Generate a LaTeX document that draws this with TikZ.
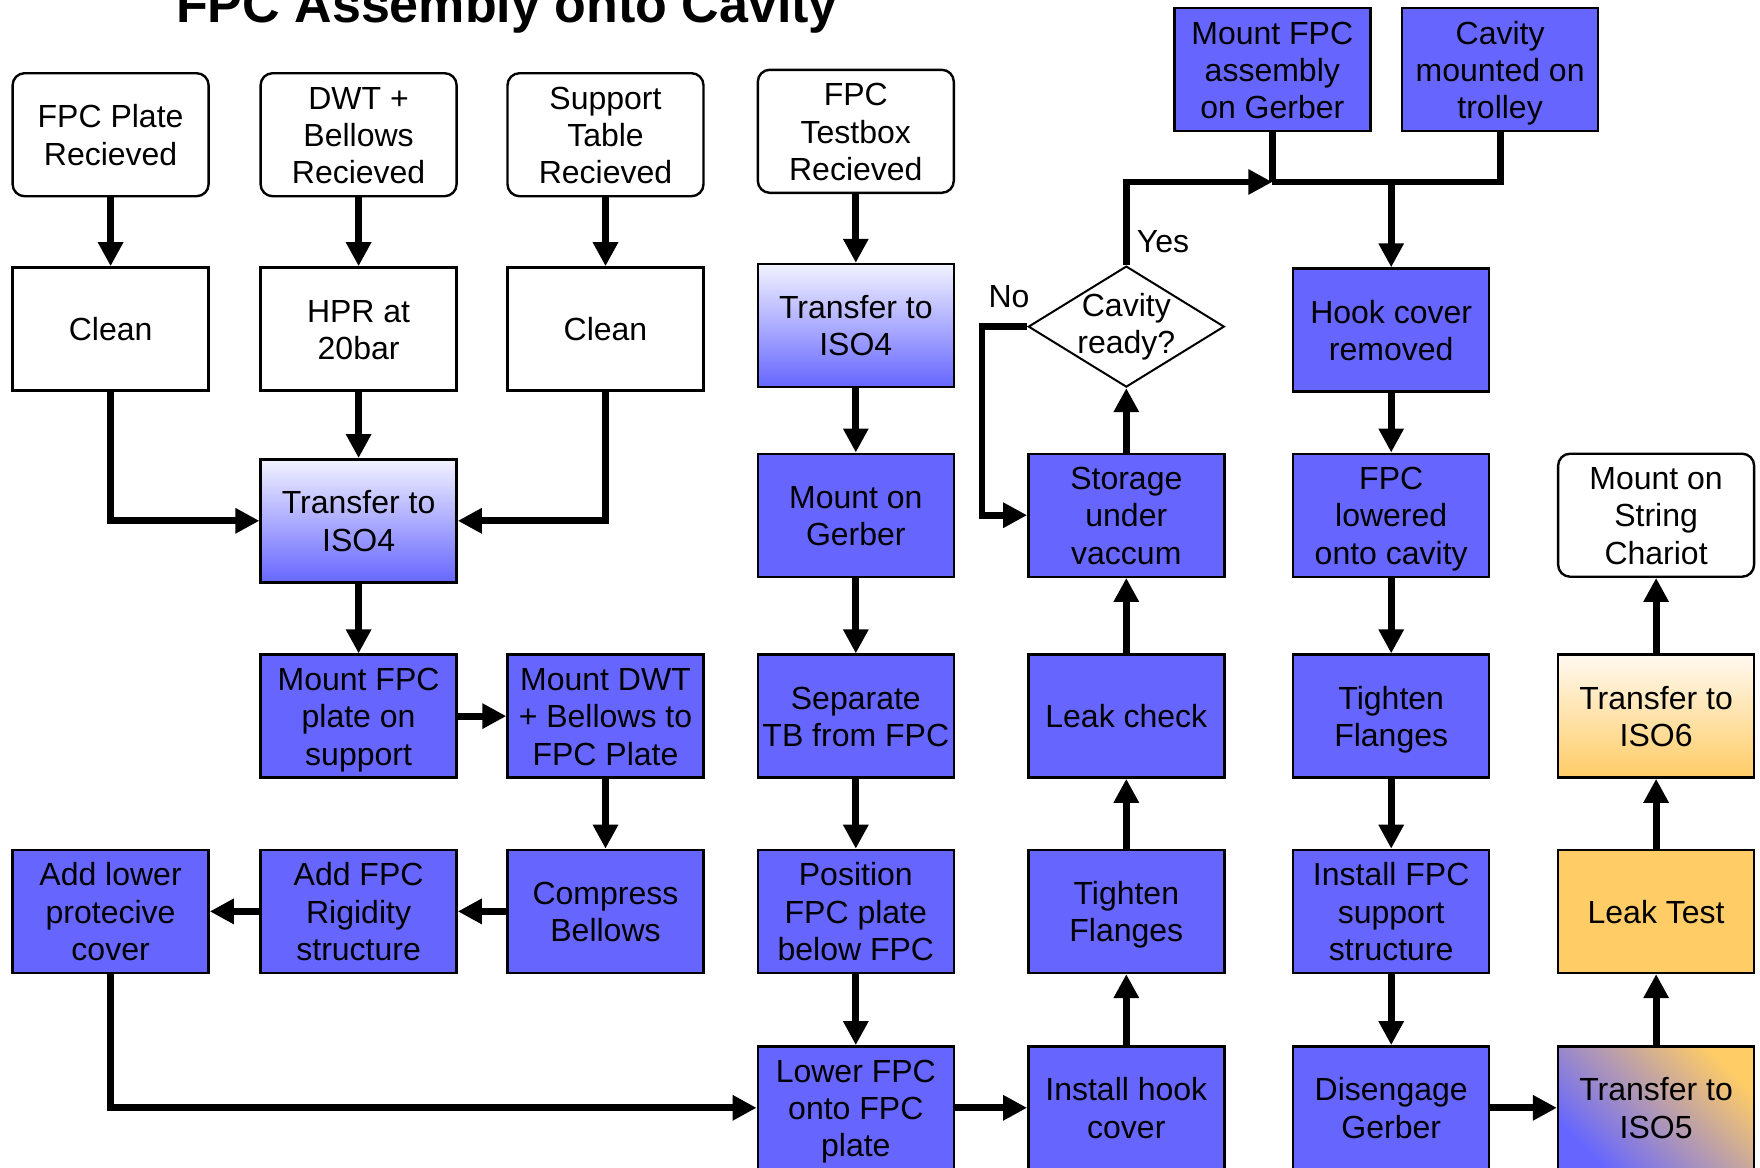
\documentclass[tikz,border=0pt]{standalone}
\usepackage{fontspec}
\setmainfont{Liberation Sans}
\usetikzlibrary{arrows.meta,shapes.geometric}
\definecolor{bluef}{HTML}{6666FF}
\definecolor{bluetop}{HTML}{F2F2FF}
\definecolor{orangef}{HTML}{FFCC66}
\definecolor{orangetop}{HTML}{FFF9F0}
\newcommand{\topfix}{\rule{0pt}{15.1pt}}
\newcommand{\botfix}{\rule[-3.4pt]{0pt}{0pt}}
\newcommand{\tx}[1]{\topfix#1\botfix}
\tikzset{
  base/.style={draw=black, line width=1.2pt, minimum width=98pt, minimum height=61.5pt,
    inner sep=0pt, align=center, font=\fontsize{16pt}{18.6pt}\selectfont},
  recv/.style={base, rounded corners=6pt, fill=white},
  plain/.style={base, fill=white},
  bluebox/.style={base, fill=bluef},
  gradbox/.style={base, top color=bluetop, bottom color=bluef},
  orbox/.style={base, fill=orangef},
  gradorbox/.style={base, top color=orangetop, bottom color=orangef},
  mixbox/.style={base, shading=axis, top color=orangef, bottom color=bluef, shading angle=-45},
  decision/.style={diamond, aspect=1.62, draw=black, line width=1pt, fill=white,
    minimum width=98pt, minimum height=60.5pt, inner sep=0pt, align=center,
    font=\fontsize{16pt}{18.6pt}\selectfont},
  conn/.style={line width=3.4pt, -{Triangle[length=12pt,width=12pt]}},
  line/.style={line width=3.4pt},
  lbl/.style={font=\fontsize{16pt}{18.6pt}\selectfont, inner sep=0pt}
}
\begin{document}
\begin{tikzpicture}[x=0.5pt,y=-0.5pt]
\clip (0,0) rectangle (1760,1167);
\fill[white] (0,0) rectangle (1760,1167);
% title
\node[anchor=base, font=\fontsize{26pt}{30pt}\selectfont\bfseries, inner sep=0pt] (title) at (507,22) {FPC Assembly onto Cavity};
% column 1-3 top
\node[recv] (r1) at (110.6,134.7) {\tx{FPC Plate\\Recieved}};
\node[recv] (r2) at (358.6,134.7) {\tx{DWT +\\Bellows\\Recieved}};
\node[recv] (r3) at (605.5,134.7) {\tx{Support\\Table\\Recieved}};
\node[recv] (r4) at (855.8,131.3) {\tx{FPC\\Testbox\\Recieved}};
\node[plain] (c1) at (110.6,328.9) {\tx{Clean}};
\node[plain] (hpr) at (358.6,328.9) {\tx{HPR at\\20bar}};
\node[plain] (c3) at (605.5,328.9) {\tx{Clean}};
\node[gradbox] (iso4a) at (358.6,520.8) {\tx{Transfer to\\ISO4}};
\node[bluebox] (mfp) at (358.6,716.1) {\tx{Mount FPC\\plate on\\support}};
\node[bluebox] (mdwt) at (605.5,716.1) {\tx{Mount DWT\\+ Bellows to\\FPC Plate}};
\node[bluebox] (comp) at (605.5,911.4) {\tx{Compress\\Bellows}};
\node[bluebox] (rig) at (358.6,911.4) {\tx{Add FPC\\Rigidity\\structure}};
\node[bluebox] (low) at (110.6,911.4) {\tx{Add lower\\protecive\\cover}};
% column 4
\node[gradbox] (iso4b) at (855.8,325.5) {\tx{Transfer to\\ISO4}};
\node[bluebox] (mg) at (855.8,515.2) {\tx{Mount on\\Gerber}};
\node[bluebox] (sep) at (855.8,716.1) {\tx{Separate\\TB from FPC}};
\node[bluebox] (pos) at (855.8,911.4) {\tx{Position\\FPC plate\\below FPC}};
\node[bluebox] (lfpc) at (855.8,1107.8) {\tx{Lower FPC\\onto FPC\\plate}};
% column 5
\node[bluebox] (ihc) at (1126.3,1107.8) {\tx{Install hook\\cover}};
\node[bluebox] (tf5) at (1126.3,911.4) {\tx{Tighten\\Flanges}};
\node[bluebox] (leak) at (1126.3,716.1) {\tx{Leak check}};
\node[bluebox] (stor) at (1126.3,515.2) {\tx{Storage\\under\\vaccum}};
\node[decision] (dec) at (1126.3,326.6) {\makebox[0pt]{Cavity}\\\makebox[0pt]{ready?}};
% top right
\node[bluebox] (mfa) at (1272.3,69.6) {\tx{Mount FPC\\assembly\\on Gerber}};
\node[bluebox] (cmt) at (1500.1,69.6) {\tx{Cavity\\mounted on\\trolley}};
% column 6
\node[bluebox] (hook) at (1391.2,330) {\tx{Hook cover\\removed}};
\node[bluebox] (flw) at (1391.2,515.2) {\tx{FPC\\lowered\\onto cavity}};
\node[bluebox] (tf6) at (1391.2,716.1) {\tx{Tighten\\Flanges}};
\node[bluebox] (ifs) at (1391.2,911.4) {\tx{Install FPC\\support\\structure}};
\node[bluebox] (dis) at (1391.2,1107.8) {\tx{Disengage\\Gerber}};
% column 7
\node[mixbox] (iso5) at (1656.1,1107.8) {\tx{Transfer to\\ISO5}};
\node[orbox] (lt) at (1656.1,911.4) {\tx{Leak Test}};
\node[gradorbox] (iso6) at (1656.1,716.1) {\tx{Transfer to\\ISO6}};
\node[recv] (msc) at (1656.1,515.2) {\tx{Mount on\\String\\Chariot}};
% labels
\node[lbl] (yes) at (1163,242) {Yes};
\node[lbl] (no) at (1009,297) {No};
% junction coordinates
\coordinate (jy) at (1126.3,182);
\coordinate (jm) at (1272.3,182);
\coordinate (jc) at (1500.1,182);
\coordinate (jh) at (1391.2,182);
\coordinate (nl) at (982,326.6);
\coordinate (nb) at (982,515.2);
% connectors
\draw[conn] (r1) -- (c1);
\draw[conn] (r2) -- (hpr);
\draw[conn] (r3) -- (c3);
\draw[conn] (r4) -- (iso4b);
\draw[conn] (hpr) -- (iso4a);
\draw[conn] (c1.south) |- (iso4a.west);
\draw[conn] (c3.south) |- (iso4a.east);
\draw[conn] (iso4a) -- (mfp);
\draw[conn] (mfp) -- (mdwt);
\draw[conn] (mdwt) -- (comp);
\draw[conn] (comp) -- (rig);
\draw[conn] (rig) -- (low);
\draw[conn] (low.south) |- (lfpc.west);
\draw[conn] (iso4b) -- (mg);
\draw[conn] (mg) -- (sep);
\draw[conn] (sep) -- (pos);
\draw[conn] (pos) -- (lfpc);
\draw[conn] (lfpc) -- (ihc);
\draw[conn] (ihc) -- (tf5);
\draw[conn] (tf5) -- (leak);
\draw[conn] (leak) -- (stor);
\draw[conn] (stor) -- (dec);
\draw[conn] (dec.west) -- (nl) -- (nb) -- (stor.west);
\draw[conn] (dec.north) -- (jy) -- (jm);
\draw[line] (mfa.south) -- (jm);
\draw[line, line join=miter] (cmt.south) -- (jc) -- (jm);
\draw[conn] (jh) -- (hook);
\draw[conn] (hook) -- (flw);
\draw[conn] (flw) -- (tf6);
\draw[conn] (tf6) -- (ifs);
\draw[conn] (ifs) -- (dis);
\draw[conn] (dis) -- (iso5);
\draw[conn] (iso5) -- (lt);
\draw[conn] (lt) -- (iso6);
\draw[conn] (iso6) -- (msc);
\end{tikzpicture}
\end{document}
